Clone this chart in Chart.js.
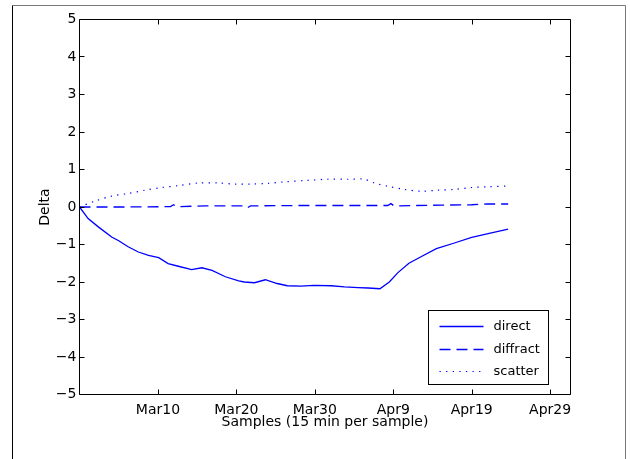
<!DOCTYPE html>
<html><head><meta charset="utf-8">
<script src="https://cdn.jsdelivr.net/npm/chart.js@4/dist/chart.umd.min.js"></script>
<style>html,body{margin:0;padding:0;background:#fff}canvas{display:block}</style>
</head><body>
<canvas id="c" width="630" height="459"></canvas>
<script>
// ---- data (x = days since Feb 29) ----
const xTickValues = [10, 20, 30, 40, 50, 60];
const xTickLabels = ['Mar10', 'Mar20', 'Mar30', 'Apr9', 'Apr19', 'Apr29'];
const yTickValues = [-5, -4, -3, -2, -1, 0, 1, 2, 3, 4, 5];
const seriesNames = ['direct', 'diffract', 'scatter'];

const directDays   = [0, 1.1, 2.4, 4.1, 5.0, 6.2, 7.5, 8.8, 10.1, 11.3, 12.6, 14.3, 15.6, 16.9, 18.6, 20.3, 21.0, 22.3, 23.7, 25.2, 26.5, 28.2, 29.9, 32.1, 33.8, 35.5, 36.8, 38.3, 39.5, 40.6, 42.0, 43.6, 45.5, 47.8, 50.0, 52.1, 54.65];
const directValues = [0, -0.31, -0.53, -0.80, -0.90, -1.06, -1.20, -1.29, -1.35, -1.51, -1.58, -1.67, -1.62, -1.69, -1.86, -1.97, -2.00, -2.02, -1.94, -2.04, -2.10, -2.11, -2.09, -2.10, -2.13, -2.15, -2.16, -2.18, -2.00, -1.75, -1.50, -1.32, -1.11, -0.96, -0.81, -0.71, -0.59];

const diffractDays   = [0, 6, 11.6, 12.0, 12.4, 16, 21.0, 21.4, 21.8, 28, 35, 39.3, 39.7, 40.1, 46, 50, 52, 54.65];
const diffractValues = [0, 0.0, 0.01, 0.06, 0.01, 0.03, 0.03, -0.02, 0.03, 0.04, 0.04, 0.04, 0.09, 0.03, 0.05, 0.06, 0.08, 0.08];

const scatterDays   = [0, 2.0, 4.1, 6.2, 8.4, 10.5, 12.6, 15.2, 17.7, 19.9, 21.8, 24.0, 26.1, 29.1, 31.6, 34.2, 36.3, 37.6, 39.4, 41.4, 43.6, 45.7, 47.8, 50.0, 52.1, 54.65];
const scatterValues = [0, 0.16, 0.29, 0.36, 0.45, 0.52, 0.57, 0.64, 0.64, 0.61, 0.61, 0.63, 0.67, 0.71, 0.74, 0.74, 0.74, 0.64, 0.55, 0.47, 0.42, 0.45, 0.47, 0.52, 0.54, 0.56];

const xMin = 0, xMax = 62.6;

function pts(xs, ys) { return xs.map((x, i) => ({ x: x, y: ys[i] })); }

const FONT = 'DejaVu Sans';
Chart.defaults.color = '#000';
Chart.defaults.font.family = FONT;

const frameAndTicks = {
  id: 'frameAndTicks',
  afterDatasetsDraw(chart) {
    const { ctx, chartArea: a, scales: { x, y } } = chart;
    ctx.save();
    ctx.strokeStyle = '#000';
    ctx.lineWidth = 1;
    ctx.beginPath();
    ctx.rect(a.left, a.top, a.right - a.left, a.bottom - a.top);
    ctx.stroke();
    const L = 5;
    ctx.beginPath();
    xTickValues.forEach(v => {
      const px = Math.round(x.getPixelForValue(v)) + 0.5;
      ctx.moveTo(px, a.bottom); ctx.lineTo(px, a.bottom - L);
      ctx.moveTo(px, a.top); ctx.lineTo(px, a.top + L);
    });
    yTickValues.forEach(v => {
      const py = Math.round(y.getPixelForValue(v) - 0.5) + 0.5;
      ctx.moveTo(a.left, py); ctx.lineTo(a.left + L, py);
      ctx.moveTo(a.right, py); ctx.lineTo(a.right - L, py);
    });
    ctx.stroke();
    ctx.restore();
  },
  afterDraw(chart) {
    const { ctx, chartArea: a } = chart;
    ctx.save();
    // legend box
    const bw = 120, bh = 74;
    const bx = a.right - 22 - bw, by = a.bottom - 10 - bh;
    ctx.fillStyle = '#fff';
    ctx.fillRect(bx, by, bw, bh);
    ctx.strokeStyle = '#000';
    ctx.lineWidth = 1;
    ctx.strokeRect(bx, by, bw, bh);
    const rows = [15.5, 38, 60.5];
    chart.data.datasets.forEach((ds, i) => {
      const ry = Math.round(by + rows[i]) + 0.5;
      ctx.strokeStyle = ds.borderColor;
      ctx.lineWidth = ds.borderWidth;
      ctx.setLineDash(ds.borderDash || []);
      ctx.beginPath();
      ctx.moveTo(bx + 11, ry); ctx.lineTo(bx + 55, ry);
      ctx.stroke();
      ctx.setLineDash([]);
      ctx.fillStyle = '#000';
      ctx.font = '13px "' + FONT + '"';
      ctx.textBaseline = 'middle';
      ctx.textAlign = 'left';
      ctx.fillText(ds.label, bx + 65, ry);
    });
    // outer figure frame
    ctx.lineWidth = 1;
    ctx.strokeStyle = '#777';
    ctx.beginPath();
    ctx.moveTo(12.5, 5.5); ctx.lineTo(625.5, 5.5); ctx.lineTo(625.5, 459);
    ctx.stroke();
    ctx.strokeStyle = '#000';
    ctx.beginPath();
    ctx.moveTo(12.5, 5.5); ctx.lineTo(12.5, 459);
    ctx.stroke();
    ctx.restore();
  }
};

new Chart(document.getElementById('c'), {
  type: 'line',
  data: {
    datasets: [
      { label: seriesNames[0], data: pts(directDays, directValues), borderColor: '#0000ff', borderWidth: 1.3, borderDash: [], pointRadius: 0, tension: 0, fill: false },
      { label: seriesNames[1], data: pts(diffractDays, diffractValues), borderColor: '#0000ff', borderWidth: 1.3, borderDash: [11, 6], pointRadius: 0, tension: 0, fill: false },
      { label: seriesNames[2], data: pts(scatterDays, scatterValues), borderColor: '#0000ff', borderWidth: 1.2, borderDash: [1.3, 5.3], pointRadius: 0, tension: 0.3, fill: false }
    ]
  },
  options: {
    responsive: false,
    animation: false,
    devicePixelRatio: 1,
    layout: { padding: { left: 0, right: 59.5, top: 19.5, bottom: 0 } },
    plugins: { legend: { display: false }, tooltip: { enabled: false } },
    scales: {
      x: {
        type: 'linear', min: xMin, max: xMax,
        grid: { display: false, drawTicks: false }, border: { display: false },
        afterBuildTicks: s => { s.ticks = xTickValues.map(v => ({ value: v })); },
        ticks: {
          autoSkip: false, maxRotation: 0, padding: 7,
          font: { size: 14, family: FONT, lineHeight: 1.2 },
          callback: v => xTickLabels[xTickValues.indexOf(v)]
        },
        title: { display: true, text: 'Samples (15 min per sample)', font: { size: 14, family: FONT, lineHeight: 1.2 }, padding: { top: 0, bottom: 28 } },
        afterFit: s => { s.height = 64.5; }
      },
      y: {
        type: 'linear', min: -5, max: 5,
        grid: { display: false, drawTicks: false }, border: { display: false },
        afterBuildTicks: s => { s.ticks = yTickValues.map(v => ({ value: v })); },
        ticks: {
          padding: 3,
          font: { size: 14, family: FONT, lineHeight: 1.2 },
          callback: v => String(v).replace('-', '\u2212')
        },
        title: { display: true, text: 'Delta', font: { size: 14, family: FONT, lineHeight: 1.2 }, padding: { top: 36.5, bottom: 0 } },
        afterFit: s => { s.width = 79.5; }
      }
    }
  },
  plugins: [frameAndTicks]
});
</script>
</body></html>
